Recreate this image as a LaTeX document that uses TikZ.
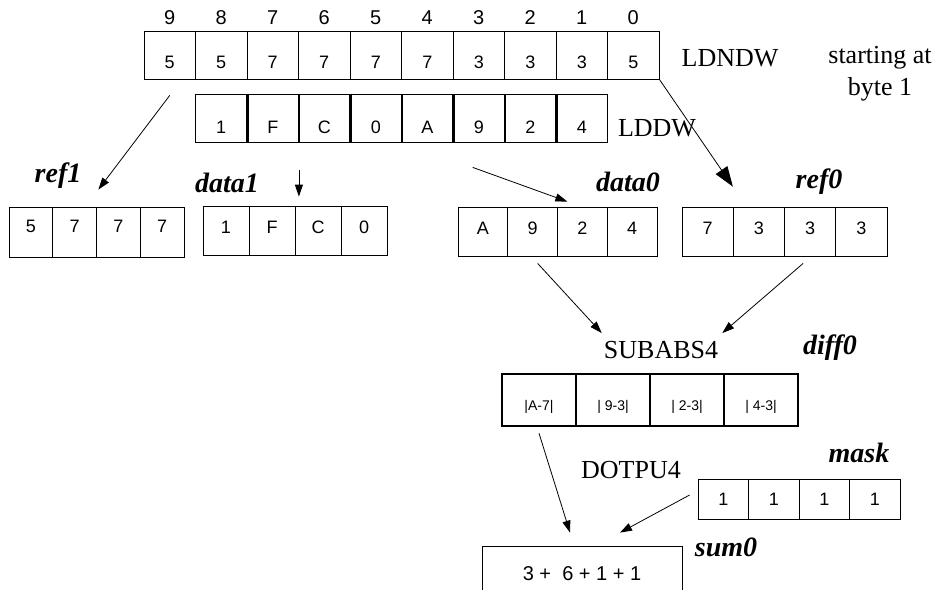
\documentclass[tikz,border=0pt]{standalone}
\usepackage{fontspec}
\setmainfont{Liberation Serif}
\newfontfamily\arialfont{Liberation Sans}
\usetikzlibrary{arrows.meta}

\tikzset{
  cell/.style={draw, rectangle, inner sep=0pt, line width=0.8pt,
    font=\arialfont\fontsize{18}{20}\selectfont},
  regname/.style={inner sep=2pt, font=\bfseries\itshape\fontsize{28}{30}\selectfont},
  opname/.style={inner sep=2pt, font=\fontsize{26}{32}\selectfont},
  bytenum/.style={font=\arialfont\fontsize{20}{22}\selectfont},
  link/.style={draw, line width=0.8pt, -{Triangle[length=12pt,width=8pt]}},
}

\begin{document}
\begin{tikzpicture}[x=1pt, y=-1pt]
\useasboundingbox (0,0) rectangle (944,589);

% LDNDW row and byte numbers
\foreach \v [count=\i] in {5,5,7,7,7,7,3,3,3,5} {
  \pgfmathtruncatemacro{\k}{10-\i}
  \node[cell, text height=27pt, minimum width=51.5pt, minimum height=48pt] (ldndw\i) at ({118.25+51.5*\i},55) {\v};
  \node[bytenum] (num\i) at ({118.25+51.5*\i},18) {\k};
}
% LDDW row
\foreach \v [count=\i] in {1,F,C,0,A,9,2,4}
  \node[cell, text height=31pt, minimum width=51.5pt, minimum height=48pt] (lddw\i) at ({169.75+51.5*\i},118) {\v};
\foreach \i in {1,...,7}
  \draw[line width=2.5pt] (lddw\i.north east) -- (lddw\i.south east);

% ref1, data1, data0, ref0
\foreach \v [count=\i] in {5,7,7,7}
  \node[cell, text depth=11pt, minimum width=43.75pt, minimum height=50pt] (refone\i) at ({-12.875+43.75*\i},232) {\v};
\foreach \v [count=\i] in {1,F,C,0}
  \node[cell, text depth=6pt, minimum width=46pt, minimum height=49pt] (dataone\i) at ({180+46*\i},230.5) {\v};
\foreach \v [count=\i] in {A,9,2,4}
  \node[cell, text depth=6pt, minimum width=49.75pt, minimum height=49pt] (datazero\i) at ({433.125+49.75*\i},231.5) {\v};
\foreach \v [count=\i] in {7,3,3,3}
  \node[cell, text depth=6pt, minimum width=51.25pt, minimum height=49pt] (refzero\i) at ({656.375+51.25*\i},231.5) {\v};

% diff0, mask, sum0
\foreach \v [count=\i] in {{|A-7|},{| 9-3|},{| 2-3|},{| 4-3|}}
  \node[cell, line width=2.5pt, text height=24pt, minimum width=74pt, minimum height=52pt,
    font=\arialfont\fontsize{14}{16}\selectfont] (diff\i) at ({465+74*\i},400) {\v};
\foreach \v [count=\i] in {1,1,1,1}
  \node[cell, minimum width=50.5pt, minimum height=40pt] (mask\i) at ({672.75+50.5*\i},499) {\v};
\node[cell, minimum width=200pt, minimum height=56pt,
  font=\arialfont\fontsize{20}{22}\selectfont] (sum) at (582,574) {3 +\ \ 6 + 1 + 1};

% instruction and register names
\node[opname] (ldndw) at (730,58) {LDNDW};
\node[opname, align=center] (start) at (880,74) {starting at\\byte 1};
\node[opname] (lddw) at (657,128) {LDDW};
\node[opname] (subabs) at (661,350) {SUBABS4};
\node[opname] (dotpu) at (631,470) {DOTPU4};
\node[regname] (lref1) at (58,176) {ref1};
\node[regname] (ldata1) at (227,183) {data1};
\node[regname] (ldata0) at (628,182) {data0};
\node[regname] (lref0) at (819,182) {ref0};
\node[regname] (ldiff0) at (830,348) {diff0};
\node[regname] (lmask) at (859,453) {mask};
\node[regname] (lsum0) at (726,547) {sum0};

\path[link] ([yshift=-16pt]ldndw1.south) -- ([xshift=-20pt,yshift=17pt]refone3.north);
\path[link, shorten <=28pt, shorten >=9pt] (lddw2.south east) -- (lddw2.south east |- dataone3.north);
\path[link] ([xshift=-6pt,yshift=-25pt]lddw6.south) -- ([xshift=-15pt,yshift=5pt]datazero3.north);
\path[draw, line width=0.8pt, -{Triangle[length=20pt,width=14pt]}] (ldndw10.south east) -- ([yshift=20pt]refzero2.north west);
\path[link] ([xshift=5pt,yshift=-7pt]datazero2.south) -- ([yshift=6pt]subabs.north west);
\path[link] ([xshift=-7pt,yshift=-7pt]refzero3.south) -- ([xshift=2pt,yshift=6pt]subabs.north east);
\path[link] ([yshift=-6pt]diff1.south) -- ([xshift=-12pt,yshift=13pt]sum.north);
\path[link] ([xshift=-8pt,yshift=4pt]mask1.west) -- ([xshift=38pt,yshift=13pt]sum.north);
\end{tikzpicture}
\end{document}
